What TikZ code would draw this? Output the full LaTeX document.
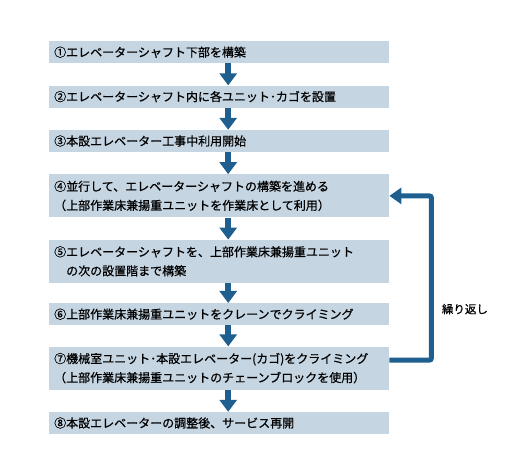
\documentclass[tikz,border=0pt]{standalone}
\usepackage{fontspec}
\setmainfont{Noto Sans CJK JP}[BoldFont=Noto Sans CJK JP, BoldFeatures={FakeBold=0.6}]
\usepackage{tikz}
\usetikzlibrary{positioning,arrows.meta}
\definecolor{boxfill}{RGB}{197,213,226}
\definecolor{flowblue}{RGB}{30,95,143}

\begin{document}
\begin{tikzpicture}[
		node distance=22pt,
		stepbox/.style={fill=boxfill, text width=330pt, inner xsep=5pt, inner ysep=2pt, minimum height=22pt, align=left, font=\fontsize{12pt}{19pt}\selectfont\bfseries},
		twoline/.style={stepbox, minimum height=43pt},
		arrow/.style={-{Triangle[width=17pt,length=12pt]}, line width=6pt, draw=flowblue},
		backarrow/.style={-{Triangle[width=16pt,length=12pt]}, line width=5pt, draw=flowblue}
		]
		
		\useasboundingbox (0,0) rectangle (507pt,-449pt);
		
		\node[stepbox, anchor=north west] (s1) at (49pt,-41pt) {①エレベーターシャフト下部を構築};
		\node[stepbox, below=of s1] (s2) {②エレベーターシャフト内に各ユニット･カゴを設置};
		\node[stepbox, below=of s2] (s3) {③本設エレベーター工事中利用開始};
		\node[twoline, below=of s3] (s4) {④並行して、エレベーターシャフトの構築を進める\\（上部作業床兼揚重ユニットを作業床として利用）};
		\node[twoline, below=of s4] (s5) {⑤エレベーターシャフトを、上部作業床兼揚重ユニット\\　の次の設置階まで構築};
		\node[stepbox, below=20pt of s5] (s6) {⑥上部作業床兼揚重ユニットをクレーンでクライミング};
		\node[twoline, below=21pt of s6] (s7) {⑦機械室ユニット･本設エレベーター(カゴ)をクライミング\\（上部作業床兼揚重ユニットのチェーンブロックを使用）};
		\node[stepbox, below=of s7] (s8) {⑧本設エレベーターの調整後、サービス再開};
		
		\draw[arrow] ([xshift=9pt]s1.south) -- ([xshift=9pt]s2.north);
		\draw[arrow] ([xshift=9pt]s2.south) -- ([xshift=9pt]s3.north);
		\draw[arrow] ([xshift=9pt]s3.south) -- ([xshift=9pt]s4.north);
		\draw[arrow] ([xshift=9pt]s4.south) -- ([xshift=9pt]s5.north);
		\draw[arrow] ([xshift=9pt]s5.south) -- ([xshift=9pt]s6.north);
		\draw[arrow] ([xshift=9pt]s6.south) -- ([xshift=9pt]s7.north);
		\draw[arrow] ([xshift=9pt]s7.south) -- ([xshift=9pt]s8.north);
		
		\draw[backarrow, rounded corners=2pt] ([yshift=8pt]s7.east) -- ++(42pt,0) coordinate (turn) |- (s4.east);
		
		\node[anchor=west, font=\fontsize{11.5pt}{14pt}\selectfont\bfseries] (repeat) at ([xshift=7pt,yshift=51pt]turn) {繰り返し};
		
	\end{tikzpicture}
\end{document}
